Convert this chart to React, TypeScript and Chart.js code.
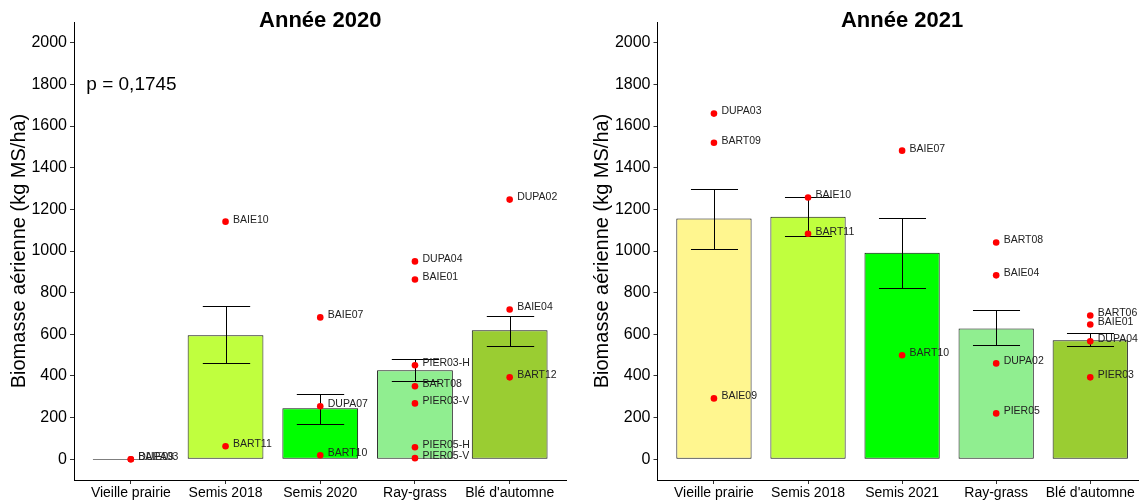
import { useEffect, useRef } from "react";
import { Chart, registerables } from "chart.js";

Chart.register(...registerables);

const FONT = "'Liberation Sans', Arial, Helvetica, sans-serif";

// ---------- Year 2020 ----------
const categories2020 = ["Vieille prairie", "Semis 2018", "Semis 2020", "Ray-grass", "Blé d'automne"];
const means2020 = [0, 595, 245, 427, 619];
const errLow2020 = [0, 460, 168, 374, 542];
const errHigh2020 = [0, 734, 312, 480, 690];
const pointSites2020 = ["BAIE09", "DUPA03", "BAIE10", "BART11", "BAIE07", "DUPA07", "BART10", "DUPA04", "BAIE01", "PIER03-H", "BART08", "PIER03-V", "PIER05-H", "PIER05-V", "DUPA02", "BAIE04", "BART12"];
const pointCats2020 = [0, 0, 1, 1, 2, 2, 2, 3, 3, 3, 3, 3, 3, 3, 4, 4, 4];
const pointValues2020 = [0, 0, 1141, 62, 681, 254, 19, 950, 863, 451, 350, 268, 57, 5, 1247, 719, 393];

// ---------- Year 2021 ----------
const categories2021 = ["Vieille prairie", "Semis 2018", "Semis 2021", "Ray-grass", "Blé d'automne"];
const means2021 = [1156, 1165, 992, 628, 571];
const errLow2021 = [1012, 1074, 820, 547, 542];
const errHigh2021 = [1300, 1257, 1157, 715, 604];
const pointSites2021 = ["DUPA03", "BART09", "BAIE09", "BAIE10", "BART11", "BAIE07", "BART10", "BART08", "BAIE04", "DUPA02", "PIER05", "BART06", "BAIE01", "DUPA04", "PIER03"];
const pointCats2021 = [0, 0, 0, 1, 1, 2, 2, 3, 3, 3, 3, 4, 4, 4, 4];
const pointValues2021 = [1660, 1520, 292, 1257, 1083, 1482, 499, 1041, 883, 460, 220, 690, 647, 566, 393];

// ---------- Shared ----------
const barColors = ["#FFF68F", "#C0FF3E", "#00FF00", "#90EE90", "#9ACD32"];
const yTicks = [0, 200, 400, 600, 800, 1000, 1200, 1400, 1600, 1800, 2000];
const yMin = -100;
const yMax = 2100;
const yTitle = "Biomasse aérienne (kg MS/ha)";
const pText2020 = "p = 0,1745";
const pTextAt = { x: -0.47, y: 1800 };

type Panel = {
  title: string;
  categories: string[];
  means: number[];
  errLow: number[];
  errHigh: number[];
  sites: string[];
  cats: number[];
  values: number[];
  pText?: string;
  yAxisWidth: number;
  padRight: number;
};

function makeChart(canvas: HTMLCanvasElement, p: Panel) {
  const annot = {
    id: "annot",
    afterDatasetDraw(chart: any, args: any) {
      if (args.meta.type !== "bar") return;
      const { ctx, scales } = chart;
      const x = scales.x;
      const y = scales.y;
      const unit = x.getPixelForValue(1) - x.getPixelForValue(0);
      ctx.save();
      p.means.forEach((m, i) => {
        if (m === 0) {
          const cx = x.getPixelForValue(i);
          const py = Math.round(y.getPixelForValue(0)) + 0.5;
          ctx.strokeStyle = "#7f7f7f";
          ctx.lineWidth = 1;
          ctx.beginPath();
          ctx.moveTo(cx - 0.4 * unit, py);
          ctx.lineTo(cx + 0.4 * unit, py);
          ctx.stroke();
        }
      });
      ctx.strokeStyle = "#000";
      ctx.lineWidth = 1;
      p.errLow.forEach((lo, i) => {
        const hi = p.errHigh[i];
        if (lo === hi) return;
        const cx = Math.round(x.getPixelForValue(i)) + 0.5;
        const yl = Math.round(y.getPixelForValue(lo)) + 0.5;
        const yh = Math.round(y.getPixelForValue(hi)) + 0.5;
        const hw = 0.25 * unit;
        ctx.beginPath();
        ctx.moveTo(cx, yl);
        ctx.lineTo(cx, yh);
        ctx.moveTo(cx - hw, yl);
        ctx.lineTo(cx + hw, yl);
        ctx.moveTo(cx - hw, yh);
        ctx.lineTo(cx + hw, yh);
        ctx.stroke();
      });
      ctx.restore();
    },
    afterDraw(chart: any) {
      const { ctx, chartArea, scales } = chart;
      const x = scales.x;
      const y = scales.y;
      ctx.save();
      ctx.fillStyle = "#222";
      ctx.font = `10.5px ${FONT}`;
      ctx.textAlign = "left";
      ctx.textBaseline = "middle";
      p.sites.forEach((s, i) => {
        const px = x.getPixelForValue(p.cats[i]);
        const py = y.getPixelForValue(p.values[i]);
        ctx.fillText(s, px + 7.5, py - 2);
      });
      ctx.fillStyle = "#000";
      ctx.font = `bold 22px ${FONT}`;
      ctx.textAlign = "center";
      ctx.textBaseline = "middle";
      ctx.fillText(p.title, (chartArea.left + chartArea.right) / 2, 21);
      ctx.save();
      ctx.translate(chartArea.left - 55, (chartArea.top + chartArea.bottom) / 2);
      ctx.rotate(-Math.PI / 2);
      ctx.font = `20px ${FONT}`;
      ctx.fillText(yTitle, 0, 0);
      ctx.restore();
      if (p.pText) {
        ctx.font = `19px ${FONT}`;
        ctx.textAlign = "left";
        ctx.fillText(p.pText, x.getPixelForValue(pTextAt.x), y.getPixelForValue(pTextAt.y));
      }
      ctx.restore();
    },
  };

  return new Chart(canvas, {
    type: "bar",
    data: {
      datasets: [
        {
          type: "scatter",
          order: 0,
          data: p.values.map((v, i) => ({ x: p.cats[i], y: v })),
          backgroundColor: "#FF0000",
          borderColor: "#FF0000",
          borderWidth: 0,
          pointRadius: 3.3,
          pointHoverRadius: 3.3,
        } as any,
        {
          type: "bar",
          order: 1,
          data: p.means.map((v, i) => ({ x: i, y: v })),
          backgroundColor: barColors,
          borderColor: "#111",
          borderWidth: 1,
          borderSkipped: false,
          categoryPercentage: 1,
          barPercentage: 0.8,
        } as any,
      ],
    },
    options: {
      responsive: false,
      animation: false,
      events: [],
      layout: { padding: { top: 22, right: p.padRight, left: 0, bottom: 0 } },
      plugins: { legend: { display: false }, tooltip: { enabled: false }, title: { display: false } },
      scales: {
        x: {
          type: "linear",
          min: -0.6,
          max: 4.6,
          offset: false,
          afterBuildTicks: (scale: any) => {
            scale.ticks = p.categories.map((_, i) => ({ value: i }));
          },
          afterFit: (scale: any) => {
            scale.height = 22;
          },
          ticks: {
            callback: (_v: any, i: number) => p.categories[i],
            font: { family: FONT, size: 14 },
            color: "#000",
            padding: 1,
            maxRotation: 0,
            autoSkip: false,
          },
          grid: { display: true, offset: false, drawOnChartArea: false, drawTicks: true, tickLength: 4, color: "#333" },
          border: { display: true, color: "#000", width: 1 },
        },
        y: {
          type: "linear",
          min: yMin,
          max: yMax,
          afterBuildTicks: (scale: any) => {
            scale.ticks = yTicks.map((v) => ({ value: v }));
          },
          afterFit: (scale: any) => {
            scale.width = p.yAxisWidth;
          },
          ticks: {
            callback: (v: any) => String(v),
            font: { family: FONT, size: 16 },
            color: "#000",
            padding: 3,
          },
          grid: { display: true, drawOnChartArea: false, drawTicks: true, tickLength: 4, color: "#333" },
          border: { display: true, color: "#000", width: 1 },
        },
      },
    } as any,
    plugins: [annot],
  });
}

export default function App() {
  const leftRef = useRef<HTMLCanvasElement>(null);
  const rightRef = useRef<HTMLCanvasElement>(null);

  useEffect(() => {
    document.body.style.margin = "0";
    const c1 = makeChart(leftRef.current!, {
      title: "Année 2020",
      categories: categories2020,
      means: means2020,
      errLow: errLow2020,
      errHigh: errHigh2020,
      sites: pointSites2020,
      cats: pointCats2020,
      values: pointValues2020,
      pText: pText2020,
      yAxisWidth: 74,
      padRight: 8.5,
    });
    const c2 = makeChart(rightRef.current!, {
      title: "Année 2021",
      categories: categories2021,
      means: means2021,
      errLow: errLow2021,
      errHigh: errHigh2021,
      sites: pointSites2021,
      cats: pointCats2021,
      values: pointValues2021,
      yAxisWidth: 82.5,
      padRight: 0.5,
    });
    return () => {
      c1.destroy();
      c2.destroy();
    };
  }, []);

  return (
    <div style={{ position: "relative", width: 1139, height: 502, overflow: "hidden", background: "#fff" }}>
      <canvas ref={leftRef} width={575} height={502} style={{ position: "absolute", left: 0, top: 0 }} />
      <canvas ref={rightRef} width={575} height={502} style={{ position: "absolute", left: 575, top: 0 }} />
    </div>
  );
}
